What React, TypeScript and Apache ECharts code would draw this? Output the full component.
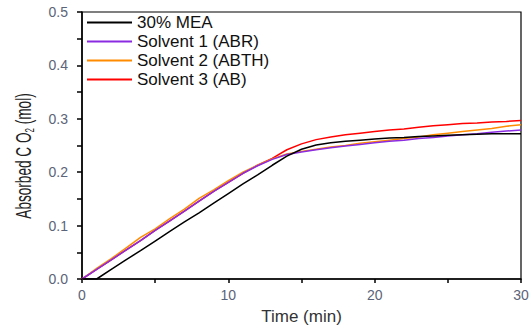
import React, { useEffect, useRef } from "react";
import * as echarts from "echarts";

const times = [0,1,2,3,4,5,6,7,8,9,10,11,12,13,14,15,16,17,18,19,20,21,22,23,24,25,26,27,28,29,30];
const mea = [0,0,0.018,0.036,0.053,0.071,0.089,0.107,0.124,0.142,0.160,0.178,0.195,0.213,0.230,0.243,0.251,0.255,0.258,0.260,0.262,0.264,0.265,0.267,0.268,0.269,0.270,0.271,0.272,0.272,0.272];
const solvent1 = [0,0.018,0.036,0.054,0.072,0.091,0.109,0.127,0.146,0.164,0.181,0.198,0.212,0.224,0.233,0.238,0.242,0.246,0.249,0.252,0.255,0.258,0.260,0.263,0.265,0.268,0.270,0.272,0.275,0.277,0.279];
const solvent2 = [0,0.020,0.038,0.058,0.078,0.094,0.113,0.131,0.151,0.167,0.184,0.200,0.213,0.225,0.234,0.239,0.243,0.247,0.250,0.254,0.257,0.260,0.263,0.266,0.270,0.273,0.276,0.279,0.282,0.286,0.289];
const solvent3 = [0,0.018,0.036,0.054,0.072,0.091,0.109,0.127,0.146,0.164,0.181,0.198,0.213,0.226,0.242,0.253,0.261,0.266,0.270,0.273,0.276,0.279,0.281,0.284,0.287,0.289,0.291,0.292,0.294,0.295,0.297];
const seriesNames = ["30% MEA", "Solvent 1 (ABR)", "Solvent 2 (ABTH)", "Solvent 3 (AB)"];
const seriesColors = ["#000000", "#8a2be2", "#ff8c00", "#ff0000"];

export default function App() {
  const ref = useRef<HTMLDivElement>(null);
  useEffect(() => {
    if (!ref.current) return;
    const chart = echarts.init(ref.current, null, { renderer: "svg" });
    const all = [mea, solvent1, solvent2, solvent3];
    const font = "'Liberation Sans', Arial, sans-serif";
    chart.setOption({
      animation: false,
      backgroundColor: "#ffffff",
      grid: { left: 82, right: 9, top: 12, bottom: 49, show: true, borderColor: "#000", borderWidth: 1.2, outerBoundsMode: "none" },
      legend: {
        orient: "vertical",
        left: 82,
        top: 9,
        icon: "rect",
        itemWidth: 45,
        itemHeight: 2,
        itemGap: 2,
        textStyle: { fontFamily: font, fontSize: 17, color: "#111", lineHeight: 17 },
        data: seriesNames,
      },
      xAxis: {
        type: "value",
        min: 0,
        max: 30,
        interval: 10,
        name: "Time (min)",
        nameLocation: "middle",
        nameGap: 29,
        nameTextStyle: { fontFamily: font, fontSize: 17, color: "#333" },
        axisLine: { show: true, lineStyle: { color: "#000", width: 1.5 } },
        axisTick: { show: true, inside: false, length: 4, lineStyle: { color: "#000", width: 1.5 } },
        minorTick: { show: true, splitNumber: 2, length: 4, lineStyle: { color: "#000", width: 1.5 } },
        splitLine: { show: false },
        axisLabel: { fontFamily: font, fontSize: 14, color: "#5b6478", margin: 9 },
      },
      yAxis: {
        type: "value",
        min: 0,
        max: 0.5,
        interval: 0.1,
        axisLine: { show: true, lineStyle: { color: "#000", width: 1.5 } },
        axisTick: { show: true, inside: false, length: 5, lineStyle: { color: "#000", width: 1.5 } },
        minorTick: { show: true, splitNumber: 2, length: 5, lineStyle: { color: "#000", width: 1.5 } },
        splitLine: { show: false },
        axisLabel: { fontFamily: font, fontSize: 14, color: "#5b6478", margin: 14, formatter: (v: number) => v.toFixed(1) },
      },
      graphic: [
        {
          type: "text",
          x: 24,
          y: 156,
          rotation: Math.PI / 2,
          scaleX: 0.8,
          scaleY: 1.25,
          style: {
            text: "Absorbed C O{sub|2} (mol)",
            fontFamily: font,
            fontSize: 17,
            fill: "#222",
            textAlign: "center",
            textVerticalAlign: "middle",
            rich: { sub: { fontSize: 10, fontFamily: font, fill: "#222", padding: [10, 0, 0, 0] } },
          },
        },
      ],
      series: all.map((d, i) => ({
        name: seriesNames[i],
        type: "line",
        symbol: "none",
        data: times.map((t, j) => [t, d[j]]),
        lineStyle: { color: seriesColors[i], width: 1.5 },
        itemStyle: { color: seriesColors[i] },
        z: 4 - i,
      })),
    });
    return () => chart.dispose();
  }, []);
  return <div ref={ref} style={{ width: 530, height: 328, position: "absolute", left: 0, top: 0 }} />;
}
